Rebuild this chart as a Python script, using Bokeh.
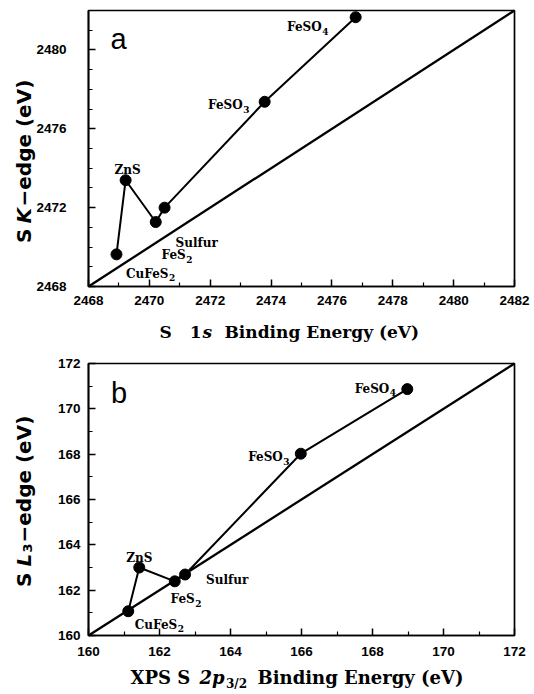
import math
from bokeh.plotting import figure
from bokeh.layouts import column
from bokeh.models import FixedTicker, Label, Range1d
from bokeh.core.properties import value
from bokeh.embed import file_html
from bokeh.resources import INLINE

# ---------------- data ----------------
compounds = ["CuFeS2", "ZnS", "FeS2", "Sulfur", "FeSO3", "FeSO4"]
# panel a: S 1s binding energy vs S K-edge (eV)
k_binding = [2468.92, 2469.22, 2470.21, 2470.50, 2473.79, 2476.78]
k_edge = [2469.63, 2473.39, 2471.27, 2472.00, 2477.37, 2481.66]
# panel b: XPS S 2p3/2 binding energy vs S L3-edge (eV)
l_binding = [161.12, 161.43, 162.43, 162.72, 165.98, 168.98]
l_edge = [161.07, 163.00, 162.39, 162.69, 168.02, 170.87]

a_limits = (2468, 2482)
b_limits = (160, 172)
a_xticks = [2468, 2470, 2472, 2474, 2476, 2478, 2480, 2482]
a_yticks = [2468, 2472, 2476, 2480]
b_xticks = [160, 162, 164, 166, 168, 170, 172]
b_yticks = [160, 162, 164, 166, 168, 170, 172]

# ---------------- helpers ----------------
TICK_FONT = "Liberation Sans"
SERIF = "DejaVu Serif"
SANS = "DejaVu Sans"
W = 534
HA = 346          # height of panel a canvas
HB = 694 - HA     # height of panel b canvas


def split_name(n):
    main = n.rstrip("0123456789")
    return main, n[len(main):]


class Panel:
    """A figure whose frame is the whole canvas; the plot box is placed
    inside it by pixel margins and the axes are pinned to the box."""

    def __init__(self, lim, height, left, right, top, bottom, xt, yt, ystand, xstand):
        lo, hi = lim
        bw = W - left - right
        bh = height - top - bottom
        sx = (hi - lo) / bw
        sy = (hi - lo) / bh
        self.x0, self.x1 = lo - left * sx, hi + right * sx
        self.y0, self.y1 = lo - bottom * sy, hi + top * sy
        self.H = height
        p = figure(width=W, height=height, title=None,
                   x_range=Range1d(self.x0, self.x1), y_range=Range1d(self.y0, self.y1),
                   output_backend="svg", toolbar_location=None, tools="",
                   min_border=0, min_border_left=0, min_border_right=0,
                   min_border_top=0, min_border_bottom=0)
        p.xgrid.visible = False
        p.ygrid.visible = False
        p.outline_line_color = None
        p.background_fill_color = "white"
        p.border_fill_color = "white"
        xminor = [v for v in range(int(lo), int(hi) + 1) if v not in xt]
        yminor = [v for v in range(int(lo), int(hi) + 1) if v not in yt]
        for ax, ticks, minor, stand in ((p.xaxis[0], xt, xminor, xstand),
                                        (p.yaxis[0], yt, yminor, ystand)):
            ax.fixed_location = lo
            ax.bounds = (lo, hi)
            ax.ticker = FixedTicker(ticks=ticks, minor_ticks=minor)
            ax.major_tick_in = 7
            ax.major_tick_out = 0
            ax.minor_tick_in = 4
            ax.minor_tick_out = 0
            ax.major_tick_line_width = 1.5
            ax.minor_tick_line_width = 1.2
            ax.major_tick_line_color = "black"
            ax.minor_tick_line_color = "black"
            ax.axis_line_width = 1.7
            ax.axis_line_color = "black"
            ax.major_label_text_font = TICK_FONT
            ax.major_label_text_font_style = "bold"
            ax.major_label_text_font_size = "13.5px"
            ax.major_label_text_color = "black"
            ax.major_label_standoff = stand
        # plot box
        p.quad(left=[lo], right=[hi], bottom=[lo], top=[hi], fill_color=None,
               line_color="black", line_width=1.7)
        # identity line
        p.line([lo, hi], [lo, hi], line_color="black", line_width=2.3)
        self.p = p

    def put(self, text, cx, cy, size, font, style="bold", align="left", angle=0.0):
        x = self.x0 + cx / W * (self.x1 - self.x0)
        y = self.y1 - cy / self.H * (self.y1 - self.y0)
        self.p.add_layout(Label(x=x, y=y, text=text, text_font=font, text_font_size=size,
                                text_font_style=style, text_align=align,
                                text_baseline="alphabetic", angle=angle,
                                text_color="black"))

    def series(self, xs, ys, offsets):
        p = self.p
        p.line(xs, ys, line_color="black", line_width=2)
        p.scatter(xs, ys, size=11, fill_color="black", line_color="black")
        mains, subs = zip(*[split_name(n) for n in compounds])
        for i in range(len(compounds)):
            dx, dy, al = offsets[i]
            align = "right" if subs[i] else al
            p.text(x=[xs[i]], y=[ys[i]], text=[mains[i]], x_offset=dx, y_offset=dy,
                   text_font=value(SERIF), text_font_style="bold", text_font_size="12px",
                   text_align=align, text_baseline="alphabetic", text_color="black")
            if subs[i]:
                p.text(x=[xs[i]], y=[ys[i]], text=[subs[i]], x_offset=dx + 0.5,
                       y_offset=dy + 4, text_font=value(SERIF), text_font_style="bold",
                       text_font_size="9px", text_align="left",
                       text_baseline="alphabetic", text_color="black")


# ---------------- panel a ----------------
A = Panel(a_limits, HA, 88, 20, 10, HA - 286, a_xticks, a_yticks, 22, 9)
A.series(k_binding, k_edge,
         [(52, 19.5, "left"), (2, -10, "center"), (30, 33, "left"),
          (11, 35, "left"), (-22, 3.5, "left"), (-34, 10, "left")])
A.put("a", 110, 38.3, "29px", "Liberation Sans", style="normal")
# x label: S 1s Binding Energy (eV)
A.put("S", 159, 331.7, "17px", SERIF)
A.put("1", 201, 331.7, "17px", SERIF, align="right")
A.put("s", 202, 331.7, "17px", SERIF, style="bold italic")
A.put("Binding Energy (eV)", 224, 331.7, "17px", SERIF)
# y label: S K-edge (eV)
A.put("S", 23, 228, "20px", SANS, align="right", angle=math.pi / 2)
A.put("K", 23, 223, "20px", SANS, style="bold italic", angle=math.pi / 2)
A.put("\u2212edge (eV)", 23, 206, "20px", SANS, angle=math.pi / 2)

# ---------------- panel b ----------------
oy = HA  # canvas offset of panel b in the page
B = Panel(b_limits, HB, 88, 20, 363 - oy, 694 - 635, b_xticks, b_yticks, 8, 11)
B.series(l_binding, l_edge,
         [(49, 13.7, "left"), (0, -9.3, "center"), (20, 18, "left"),
          (21, 5.4, "left"), (-18, 3.4, "left"), (-18, -0.5, "left")])
B.put("b", 110.5, 392.7 - oy, "29px", "Liberation Sans", style="normal")
# x label: XPS S 2p3/2 Binding Energy (eV)
B.put("XPS S", 130, 676.7 - oy, "18px", SERIF)
B.put("2p", 224, 676.7 - oy, "18px", SERIF, style="bold italic", align="right")
B.put("3/2", 225.5, 683.5 - oy, "12px", SERIF)
B.put("Binding Energy (eV)", 257, 676.7 - oy, "18px", SERIF)
# y label: S L3-edge (eV)
B.put("S", 23, 572 - oy, "20px", SANS, align="right", angle=math.pi / 2)
B.put("L", 23, 566 - oy, "20px", SANS, style="bold italic", angle=math.pi / 2)
B.put("3", 27, 552 - oy, "13px", SANS, angle=math.pi / 2)
B.put("\u2212edge (eV)", 23, 542 - oy, "20px", SANS, angle=math.pi / 2)

layout = column(A.p, B.p, spacing=0)
open("out.html", "w").write(file_html(layout, INLINE))
